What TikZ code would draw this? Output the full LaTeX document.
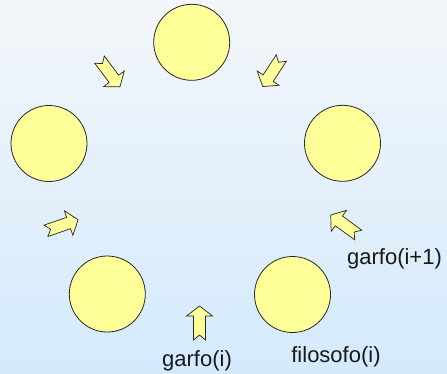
\documentclass[tikz,border=0pt]{standalone}
\usepackage{fontspec}
\setmainfont{Liberation Sans}

\definecolor{amarelo}{RGB}{255,255,153}
\definecolor{fundoalto}{RGB}{243,246,250}
\definecolor{fundobaixo}{RGB}{212,234,252}

% seta larga com cauda entalhada, apontando para +x
\tikzset{garfo/.pic={
    \draw[draw=black!85,line width=0.7pt,fill=amarelo,line join=miter]
      (-17,6) -- (7,6) -- (7,13) -- (17,0) -- (7,-13) -- (7,-6) -- (-17,-6) -- (-12,0) -- cycle;
  }}

\begin{document}
\begin{tikzpicture}[x=1pt,y=-1pt,
    filosofo/.style={circle,draw=black!85,line width=0.8pt,fill=amarelo,minimum size=76pt,inner sep=0pt},
    rotulo/.style={font=\fontsize{22}{26}\selectfont,text=black!90,anchor=base,inner sep=0pt}]
    \shade[top color=fundoalto,bottom color=fundobaixo] (0,0) rectangle (447,373);
    \useasboundingbox (0,0) rectangle (447,373);

    % os cinco filosofos
    \node[filosofo] (F1) at (191.7,42.3) {};
    \node[filosofo] (F2) at (49,143.5) {};
    \node[filosofo] (F3) at (342.5,143.3) {};
    \node[filosofo] (F4) at (107.3,294) {};
    \node[filosofo] (F5) at (292.5,294.5) {};

    % os garfos
    \foreach \x/\y/\ang in {109.7/73.2/-53, 272/72.3/-123, 62/225.3/19, 344.5/225/144, 199.5/323/90}
      \pic[rotate=\ang] at (\x,\y) {garfo};

    \node[rotulo] (Gi) at (197,366.5) {garfo(i)};
    \node[rotulo] (Gi1) at (394.5,264) {garfo(i+1)};
    \node[rotulo] (Fi) at (336,362) {filosofo(i)};
  \end{tikzpicture}
\end{document}
